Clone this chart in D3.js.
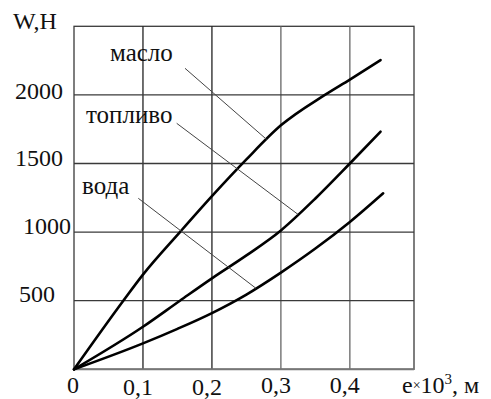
<!DOCTYPE html>
<html>
<head>
<meta charset="utf-8">
<script src="https://cdn.jsdelivr.net/npm/d3@7"></script>
<style>
  html, body { margin: 0; padding: 0; background: #fff; }
  svg { display: block; }
  svg text { font-family: "Liberation Serif", "Times New Roman", "DejaVu Serif", serif; fill: #111; }
</style>
</head>
<body>
<svg id="chart" width="491" height="399"></svg>
<script>
// ---- data ----
const xTicks = [0, 0.1, 0.2, 0.3, 0.4];
const xTickLabels = ["0", "0,1", "0,2", "0,3", "0,4"];
const yTicks = [500, 1000, 1500, 2000];
const yTickLabels = ["500", "1000", "1500", "2000"];
const xMax = 0.493;
const yMax = 2500;

const seriesNames = ["масло", "топливо", "вода"];
const masloE = [0, 0.0715, 0.1, 0.1536, 0.2, 0.25, 0.3, 0.3638, 0.4, 0.4445];
const masloW = [0, 500, 690, 1000, 1262, 1530, 1778, 2000, 2112, 2254];
const toplivoE = [0, 0.1, 0.1536, 0.2, 0.25, 0.3, 0.35, 0.4, 0.4445];
const toplivoW = [0, 310, 500, 663, 830, 1012, 1245, 1500, 1732];
const vodaE = [0, 0.1, 0.15, 0.2, 0.25, 0.3, 0.35, 0.4, 0.4483];
const vodaW = [0, 189, 295, 410, 545, 705, 880, 1074, 1283];

// ---- layout ----
const FONT = '"Liberation Serif", "Times New Roman", "DejaVu Serif", serif';
const svg = d3.select("#chart");
const x = d3.scaleLinear().domain([0, xMax]).range([74, 414]);
const y = d3.scaleLinear().domain([0, yMax]).range([369.3, 26.3]);

const gridColor = "#3a3a3a";

// frame
svg.append("rect")
  .attr("x", x(0)).attr("y", y(yMax))
  .attr("width", x(xMax) - x(0)).attr("height", y(0) - y(yMax))
  .attr("fill", "none").attr("stroke", gridColor).attr("stroke-width", 1.3);

// grid
svg.append("g").selectAll("line").data(xTicks.filter(d => d > 0)).join("line")
  .attr("x1", d => x(d)).attr("x2", d => x(d))
  .attr("y1", y(0)).attr("y2", y(yMax))
  .attr("stroke", (d, i) => i < 2 ? "#222" : "#666").attr("stroke-width", 1.3);
svg.append("g").selectAll("line").data(yTicks).join("line")
  .attr("x1", x(0)).attr("x2", x(xMax))
  .attr("y1", d => y(d)).attr("y2", d => y(d))
  .attr("stroke", gridColor).attr("stroke-width", 1.3);
svg.append("line")
  .attr("x1", x(0)).attr("x2", x(xMax)).attr("y1", y(0)).attr("y2", y(0))
  .attr("stroke", "#777").attr("stroke-width", 2);

// y tick labels
const yNudge = {500: -8, 1000: 8, 1500: 0, 2000: 0};
const yBase = {500: 1, 1000: 2, 1500: 2.5, 2000: 4};
svg.append("g").selectAll("text").data(yTicks).join("text")
  .attr("x", d => 63 + yNudge[d])
  .attr("y", d => y(d) + yBase[d])
  .attr("text-anchor", "end")
  .attr("font-family", FONT)
  .attr("font-size", 24)
  .text((d, i) => yTickLabels[i]);

// x tick labels
const xBase = [393, 394.5, 394.5, 393, 393];
svg.append("g").selectAll("text").data(xTicks).join("text")
  .attr("x", (d, i) => i === 0 ? x(d) - 1 : x(d) - 5)
  .attr("y", (d, i) => xBase[i])
  .attr("text-anchor", "middle")
  .attr("font-family", FONT)
  .attr("font-size", 24)
  .text((d, i) => xTickLabels[i]);

// axis titles
svg.append("text").attr("x", 13).attr("y", 28.5)
  .attr("font-family", FONT).attr("font-size", 24).text("W,H");
const xt = svg.append("text").attr("x", 402).attr("y", 393)
  .attr("font-family", FONT).attr("font-size", 24);
xt.append("tspan").text("e");
xt.append("tspan").attr("font-size", 14).attr("dy", -3).text("×");
xt.append("tspan").attr("dy", 3).text("10");
xt.append("tspan").attr("font-size", 15).attr("dy", -9).text("3");
xt.append("tspan").attr("dy", 9).text(", м");

// curves
const line = d3.line().x(d => x(d[0])).y(d => y(d[1])).curve(d3.curveMonotoneX);
const series = [
  d3.zip(masloE, masloW),
  d3.zip(toplivoE, toplivoW),
  d3.zip(vodaE, vodaW)
];
svg.append("g").selectAll("path").data(series).join("path")
  .attr("d", line)
  .attr("fill", "none").attr("stroke", "#000").attr("stroke-width", 2.6)
  .attr("stroke-linecap", "round").attr("stroke-linejoin", "round");

// curve labels and leader lines (leader ends on the curve at a given e)
function interp(E, W, e) {
  return d3.scaleLinear().domain(E).range(W)(e);
}
const labels = [
  {name: seriesNames[0], tx: 110, ty: 61, lx: 185, ly: 68.3, e: 0.2793, E: masloE, W: masloW},
  {name: seriesNames[1], tx: 86, ty: 123, lx: 176.7, ly: 123.3, e: 0.325, E: toplivoE, W: toplivoW},
  {name: seriesNames[2], tx: 82, ty: 194, lx: 138.3, ly: 198.3, e: 0.264, E: vodaE, W: vodaW}
];
labels.forEach(l => {
  svg.append("text").attr("x", l.tx).attr("y", l.ty)
    .attr("font-family", FONT).attr("font-size", 25).text(l.name);
  svg.append("line")
    .attr("x1", l.lx).attr("y1", l.ly)
    .attr("x2", x(l.e)).attr("y2", y(interp(l.E, l.W, l.e)))
    .attr("stroke", "#444").attr("stroke-width", 1);
});
</script>
</body>
</html>
